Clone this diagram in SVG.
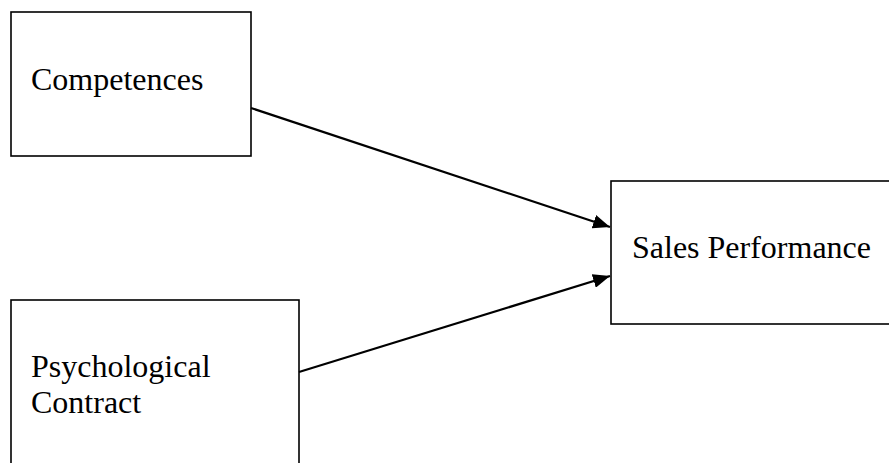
<svg xmlns="http://www.w3.org/2000/svg" width="889" height="463" viewBox="0 0 889 463">
<style>
.box{fill:#fff;stroke:#000;stroke-width:1.6}
.lbl{font-family:"Liberation Serif","Times New Roman",serif;font-size:32px;fill:#000}
.conn{stroke:#000;stroke-width:2.2;fill:none}
</style>
<defs>
<marker id="ah" markerUnits="userSpaceOnUse" markerWidth="18" markerHeight="14" refX="17" refY="7" orient="auto">
<path d="M0,0 L17,7 L0,14 Z" fill="#000"/>
</marker>
</defs>
<g id="competences">
<rect class="box" x="11" y="12" width="240" height="144"/>
<text class="lbl" x="31" y="90">Competences</text>
</g>
<g id="psychological-contract">
<rect class="box" x="11" y="300" width="288" height="180"/>
<text class="lbl" x="31" y="377">Psychological</text>
<text class="lbl" x="31" y="413">Contract</text>
</g>
<g id="sales-performance">
<rect class="box" x="611" y="181" width="290" height="143"/>
<text class="lbl" x="632" y="258">Sales Performance</text>
</g>
<g id="connectors">
<line class="conn" x1="251" y1="108" x2="610" y2="227" marker-end="url(#ah)"/>
<line class="conn" x1="299" y1="372" x2="610" y2="276" marker-end="url(#ah)"/>
</g>
</svg>
